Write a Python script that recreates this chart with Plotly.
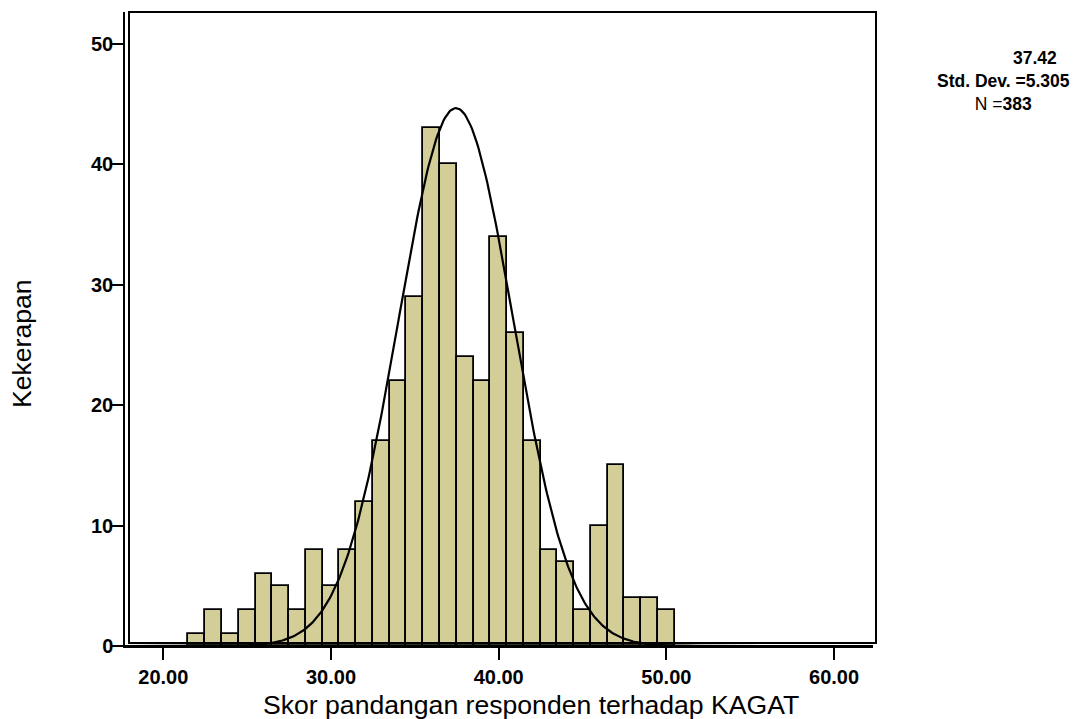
import numpy as np
import plotly.graph_objects as go

# ---- data ----
bin_centers = list(range(22, 51))
counts = [1, 3, 1, 3, 6, 5, 3, 8, 5, 8, 12, 17, 22, 29, 43, 40, 24, 22, 34, 26,
          17, 8, 7, 3, 10, 15, 4, 4, 3]
bin_width = 1.0
n_total = 383
curve_mean = 37.45
curve_sd = 3.42

x_tickvals = [20, 30, 40, 50, 60]
x_ticktext = ["20.00", "30.00", "40.00", "50.00", "60.00"]
y_tickvals = [0, 10, 20, 30, 40, 50]
y_ticktext = ["0", "10", "20", "30", "40", "50"]

stat_mean = "37.42"
stat_sd = "5.305"
stat_n = "383"

x_title = "Skor pandangan responden terhadap KAGAT"
y_title = "Kekerapan"

# ---- layout geometry (pixels) ----
W, H = 1082, 719
L, R, T, B = 125, 873, 12, 646  # plot area edges
pw, ph = R - L, B - T


def px(xp):
    return (xp - L) / pw


def py(yp):
    return (B - yp) / ph


x_range = [17.716, 62.32]
y_range = [0, 52.66]

curve_x = np.linspace(x_range[0], x_range[1], 600)
curve_y = n_total * bin_width / (curve_sd * np.sqrt(2 * np.pi)) * np.exp(
    -0.5 * ((curve_x - curve_mean) / curve_sd) ** 2)

fig = go.Figure()
fig.add_trace(go.Bar(
    x=bin_centers, y=counts, width=bin_width,
    marker=dict(color="#d3ce97", line=dict(color="black", width=1.8)),
    hoverinfo="x+y",
))
fig.add_trace(go.Scatter(
    x=curve_x, y=curve_y, mode="lines",
    line=dict(color="black", width=2.2), hoverinfo="skip",
))

font_family = "Liberation Sans, Arial, sans-serif"

stats_text = (
    "&nbsp;" * 13 + "<b>" + stat_mean + "</b><br>"
    + "<b>Std. Dev. =" + stat_sd + "</b><br>"
    + "N =<b>" + stat_n + "</b>"
)

fig.update_layout(
    width=W, height=H,
    margin=dict(l=L, r=W - R, t=T, b=H - B, pad=0),
    paper_bgcolor="white", plot_bgcolor="white",
    showlegend=False,
    bargap=0,
    font=dict(family=font_family, color="black"),
    xaxis=dict(
        range=x_range, tickvals=x_tickvals, ticktext=x_ticktext,
        showgrid=False, zeroline=False,
        showline=True, linecolor="black", linewidth=1.5,
        ticks="outside", ticklen=12, tickwidth=2, tickcolor="black",
        tickfont=dict(size=20, family=font_family, color="black", weight="bold"),
        automargin=False,
    ),
    yaxis=dict(
        range=y_range, tickvals=y_tickvals, ticktext=y_ticktext,
        showgrid=False, zeroline=False,
        showline=True, linecolor="black", linewidth=1.5,
        ticks="outside", ticklen=12, tickwidth=2, tickcolor="black",
        tickfont=dict(size=20, family=font_family, color="black", weight="bold"),
        ticklabelstandoff=-6,
        automargin=False,
    ),
    shapes=[dict(
        type="rect", xref="paper", yref="paper",
        x0=px(129), x1=px(876), y0=py(643), y1=py(12),
        line=dict(color="black", width=2), fillcolor="rgba(0,0,0,0)",
        layer="above",
    )],
    annotations=[
        dict(text=x_title, x=px(531), y=py(705), xref="paper", yref="paper",
             showarrow=False, font=dict(size=26.6, family=font_family),
             xanchor="center", yanchor="middle"),
        dict(text=y_title, x=px(22), y=py(344), xref="paper", yref="paper",
             showarrow=False, font=dict(size=26.6, family=font_family),
             textangle=-90, xanchor="center", yanchor="middle"),
        dict(text=stats_text, x=px(1004), y=py(81),
             xref="paper", yref="paper", showarrow=False,
             font=dict(size=17.5, family=font_family), align="center",
             xanchor="center", yanchor="middle"),
    ],
)

fig.write_html(
    "out.html",
    config={"displayModeBar": False},
    post_script="document.body.style.margin='0';document.body.style.overflow='hidden';",
)
